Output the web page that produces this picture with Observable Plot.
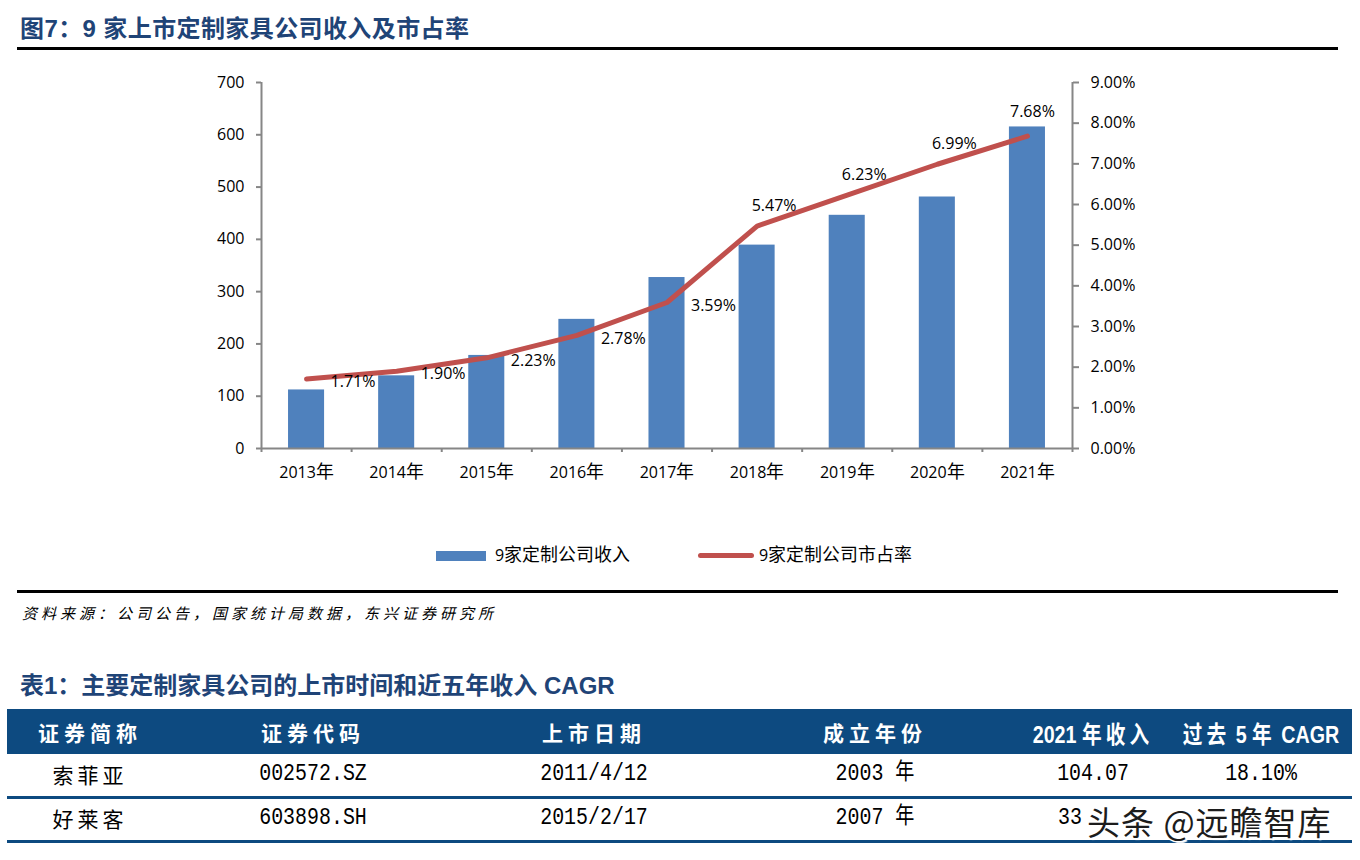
<!DOCTYPE html>
<html><head><meta charset="utf-8">
<script src="https://cdn.jsdelivr.net/npm/d3@7"></script>
<script src="https://cdn.jsdelivr.net/npm/@observablehq/plot@0.6"></script>
<style>
@font-face { font-family: "MixCJK"; src: local("Noto Sans CJK SC"), local("Noto Sans CJK SC Regular"), local("NotoSansCJKsc-Regular"); font-weight: 400; size-adjust: 112%; unicode-range: U+2E80-9FFF, U+F900-FAFF, U+FE30-FE4F, U+FF00-FFEF, U+3000-303F; }
@font-face { font-family: "MixCJK"; src: local("Noto Sans CJK SC Bold"), local("NotoSansCJKsc-Bold"); font-weight: 700; size-adjust: 112%; unicode-range: U+2E80-9FFF, U+F900-FAFF, U+FE30-FE4F, U+FF00-FFEF, U+3000-303F; }
html,body{margin:0;padding:0;background:#fff;}
body{width:1360px;height:860px;position:relative;overflow:hidden;font-family:"Open Sans","MixCJK","Noto Sans CJK SC",sans-serif;color:#000;}
.abs{position:absolute;white-space:nowrap;}
.title{font-family:"Liberation Sans","Noto Sans CJK SC",sans-serif;font-weight:700;font-size:24px;letter-spacing:0.4px;color:#1f4477;line-height:24px;}
.title.t2{letter-spacing:0;}
.hr{position:absolute;left:17px;width:1321px;height:2.5px;background:#000;}
#chart{position:absolute;left:0;top:60px;}
.legtext{font-size:16px;line-height:20px;}
.src{font-family:"Noto Sans CJK SC",sans-serif;font-style:italic;font-size:15px;letter-spacing:4px;line-height:18px;}
.thead{position:absolute;left:7px;top:709px;width:1345px;height:45px;background:#0d4a80;}
.cell{position:absolute;transform:translate(-50%,-50%);white-space:nowrap;}
.hcell{color:#fff;font-weight:700;font-size:21px;letter-spacing:5px;font-family:"Noto Sans CJK SC",sans-serif;}
.hcell.mixed{font-family:"Liberation Sans","Noto Sans CJK SC",sans-serif;font-size:24px;letter-spacing:0;transform:translate(-50%,-50%) scaleX(0.82);}
.hcell.mixed .cj{letter-spacing:5px;}
.rcell{font-size:24px;line-height:28px;height:28px;font-family:"Liberation Mono","Noto Sans CJK SC",monospace;transform:translate(-50%,-50%) scaleX(0.83);}
.rcell .cj{font-family:"Noto Sans CJK SC",sans-serif;font-size:23px;line-height:1px;position:relative;top:-1px;}
.rcell.cjk{font-family:"Noto Sans CJK SC",sans-serif;font-size:21px;letter-spacing:4px;transform:translate(-50%,-50%);}
.rcell.leftal{transform-origin:left center;transform:translate(0,-50%) scaleX(0.83);}
.tline{position:absolute;left:7px;width:1345px;background:#0d4a80;}
.wm{font-family:"Noto Sans CJK SC",sans-serif;font-size:33px;letter-spacing:1px;color:#1c1c1c;line-height:36px;
 text-shadow:1px 1px 0 #fff,-1px -1px 0 #fff,1px -1px 0 #fff,-1px 1px 0 #fff,2px 2px 1px #fff;}
</style></head>
<body>
<div class="abs title" style="left:20px;top:17px;">图7：9 家上市定制家具公司收入及市占率</div>
<div class="hr" style="top:47px;"></div>
<div id="chart"></div>
<div id="legend"></div>
<div class="hr" style="top:590px;"></div>
<div class="abs src" style="left:22px;top:604px;">资料来源：公司公告，国家统计局数据，东兴证券研究所</div>
<div class="abs title t2" style="left:20px;top:674px;">表1：主要定制家具公司的上市时间和近五年收入 CAGR</div>
<div class="thead"></div>
<div id="table"></div>
<div class="tline" style="top:796px;height:2.5px;"></div>
<div class="tline" style="top:840px;height:3px;"></div>
<div class="abs wm" style="left:1087px;top:803px;">头条 @远瞻智库</div>
<script>
// ---- chart data ----
const years = [2013, 2014, 2015, 2016, 2017, 2018, 2019, 2020, 2021];
const revenue = [112, 139, 178, 247, 327, 389, 446, 481, 615];
const share = [1.71, 1.90, 2.23, 2.78, 3.59, 5.47, 6.23, 6.99, 7.68];
const leftTicks = [0, 100, 200, 300, 400, 500, 600, 700];
const rightTicks = [0, 1, 2, 3, 4, 5, 6, 7, 8, 9];
const seriesNames = ["9家定制公司收入", "9家定制公司市占率"];
const yearSuffix = "年";

// ---- table data ----
const tableHeaders = ["证券简称", "证券代码", "上市日期", "成立年份", "2021 年收入", "过去 5 年 CAGR"];
const tNames = ["索菲亚", "好莱客"];
const tCodes = ["002572.SZ", "603898.SH"];
const tDates = ["2011/4/12", "2015/2/17"];
const tFounded = ["2003 年", "2007 年"];
const tRevenue = ["104.07", "33"];
const tCagr = ["18.10%", ""];

const colors = {bar: "#4f81bd", line: "#c0504d", axis: "#868686"};
const leftMax = 700, rightMax = 9;
const toLeft = s => s * leftMax / rightMax;

const data = years.map((y, i) => ({year: y, rev: revenue[i], share: share[i]}));
const bounds = years.map(y => y - 0.5).concat([years[years.length - 1] + 0.5]);
const xDomain = [bounds[0], bounds[bounds.length - 1]];

const fontStack = '"Open Sans","MixCJK","Noto Sans CJK SC",sans-serif';
const lblFmt = d => d.share.toFixed(2) + "%";

const chart = Plot.plot({
  width: 1360, height: 438,
  marginLeft: 261, marginRight: 288, marginTop: 22, marginBottom: 50,
  style: {fontFamily: fontStack, fontSize: "16px", color: "#000", background: "transparent", overflow: "visible"},
  x: {type: "linear", domain: xDomain, label: null},
  y: {domain: [0, leftMax], label: null},
  marks: [
    Plot.rectY(data, {x1: d => d.year - 0.2, x2: d => d.year + 0.2, y1: 0, y2: "rev", fill: colors.bar}),
    Plot.ruleX(xDomain, {y1: 0, y2: leftMax, stroke: colors.axis, strokeWidth: 2}),
    Plot.ruleY([0], {stroke: colors.axis, strokeWidth: 2}),
    Plot.axisY({anchor: "left", ticks: leftTicks, tickSize: 5, tickPadding: 12, stroke: colors.axis, strokeWidth: 2, label: null, fill: "#000"}),
    Plot.axisY({anchor: "right", ticks: rightTicks.map(toLeft), tickFormat: d => (d * rightMax / leftMax).toFixed(2) + "%", tickSize: 6, tickPadding: 12, stroke: colors.axis, strokeWidth: 2, label: null, fill: "#000"}),
    Plot.axisX({ticks: years, tickFormat: d => d + yearSuffix, tickSize: 0, tickPadding: 18, label: null, fill: "#000"}),
    Plot.axisX({ticks: bounds, tickFormat: () => "", tickSize: 4, stroke: colors.axis, strokeWidth: 2, label: null}),
    Plot.lineY(data, {x: "year", y: d => toLeft(d.share), stroke: colors.line, strokeWidth: 5, strokeLinecap: "round", strokeLinejoin: "round"}),
    Plot.text(data.filter(d => d.year <= 2017), {x: "year", y: d => toLeft(d.share), text: lblFmt, textAnchor: "start", dx: 24, dy: 3, fill: "#000"}),
    Plot.text(data.filter(d => d.year >= 2018 && d.year <= 2020), {x: "year", y: d => toLeft(d.share), text: lblFmt, dx: 17, dy: -20, fill: "#000"}),
    Plot.text(data.filter(d => d.year === 2021), {x: "year", y: d => toLeft(d.share), text: lblFmt, dx: 5, dy: -24, fill: "#000"})
  ]
});
document.getElementById("chart").appendChild(chart);

// legend
const legend = document.getElementById("legend");
legend.innerHTML =
  `<div class="abs" style="left:436px;top:551px;width:50px;height:10px;background:${colors.bar}"></div>` +
  `<div class="abs legtext" style="left:495px;top:545px;">${seriesNames[0]}</div>` +
  `<div class="abs" style="left:698px;top:553px;width:56px;height:5px;border-radius:3px;background:${colors.line}"></div>` +
  `<div class="abs legtext" style="left:759px;top:545px;">${seriesNames[1]}</div>`;

// table
const wrapCJK = t => t.replace(/([\u3000-\u9fff\uff00-\uffef]+)/g, '<span class="cj">$1</span>');
const colX = [90, 313, 594, 875, 1093, 1261];
const table = document.getElementById("table");
let html = "";
tableHeaders.forEach((h, i) => {
  const mixed = /[A-Za-z0-9]/.test(h);
  html += `<div class="cell hcell${mixed ? " mixed" : ""}" style="left:${colX[i]}px;top:732px;">${mixed ? wrapCJK(h) : h}</div>`;
});
const rowsY = [774, 818];
tNames.forEach((n, r) => {
  const vals = [n, tCodes[r], tDates[r], tFounded[r], tRevenue[r], tCagr[r]];
  vals.forEach((v, i) => {
    if (!v) return;
    const leftAl = (r === 1 && i === 4);
    const cls = i === 0 ? " cjk" : (leftAl ? " leftal" : "");
    const left = leftAl ? 1058 : colX[i];
    html += `<div class="cell rcell${cls}" style="left:${left}px;top:${rowsY[r]}px;">${i === 0 ? v : wrapCJK(v)}</div>`;
  });
});
table.innerHTML = html;
</script>
</body></html>
